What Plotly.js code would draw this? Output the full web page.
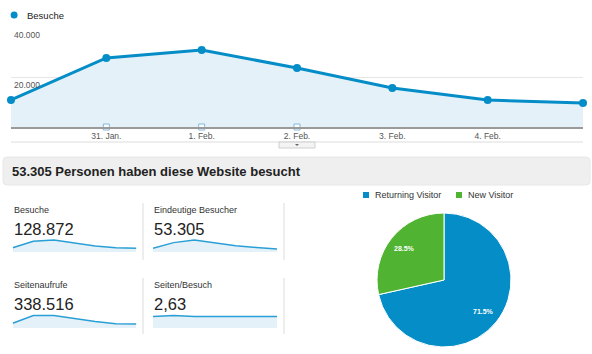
<!DOCTYPE html>
<html><head><meta charset="utf-8">
<script src="https://cdn.plot.ly/plotly-3.0.1.min.js"></script>
<style>html,body{margin:0;padding:0;background:#fff;}#chart{width:592px;height:354px;}</style>
</head><body><div id="chart"></div>
<script>
// ---- data ----
const days = ['30. Jan.','31. Jan.','1. Feb.','2. Feb.','3. Feb.','4. Feb.','5. Feb.'];
const visits = [10800, 27600, 30800, 23600, 15600, 10800, 9600];
const uniqueVisitors = [6200, 15600, 20100, 14800, 10300, 7400, 5000];
const pageviews = [29800, 78000, 78000, 60200, 39900, 27300, 25400];
const pagesPerVisit = [2.6, 2.8, 2.55, 2.55, 2.55, 2.55, 2.55];
const noteDays = ['31. Jan.','1. Feb.','2. Feb.'];
const xTickLabels = ['31. Jan.','1. Feb.','2. Feb.','3. Feb.','4. Feb.'];
const yTickVals = [20000, 40000];
const yTickLabels = ['20.000','40.000'];
const seriesName = 'Besuche';
const visitorTypes = ['Returning Visitor','New Visitor'];
const visitorShares = [71.5, 28.5];
const metricNames = ['Besuche','Eindeutige Besucher','Seitenaufrufe','Seiten/Besuch'];
const metricTotals = ['128.872','53.305','338.516','2,63'];
const headline = '53.305 Personen haben diese Website besucht';

// ---- styling ----
const W = 592, H = 354;
const px = x => x / W;
const py = y => 1 - y / H;
const FONT = 'Liberation Sans, Arial, Helvetica, sans-serif';
const BLUE = '#058DC7', GREEN = '#50B432', FILL = '#E4F1F8';
const pieColors = [BLUE, GREEN];

const traces = [];
traces.push({x: days, y: visits, type: 'scatter', mode: 'lines', fill: 'tozeroy', fillcolor: FILL,
  line: {color: BLUE, width: 3}, xaxis: 'x', yaxis: 'y', hoverinfo: 'skip', showlegend: false, cliponaxis: false});
traces.push({x: days, y: visits, type: 'scatter', mode: 'markers', marker: {color: BLUE, size: 8},
  xaxis: 'x', yaxis: 'y', hoverinfo: 'skip', showlegend: false, cliponaxis: false});
traces.push({x: noteDays, y: noteDays.map(() => 0), type: 'scatter', mode: 'markers',
  marker: {symbol: 'square', size: 6, color: '#fff', line: {color: '#86b7d6', width: 1}},
  xaxis: 'x', yaxis: 'y', hoverinfo: 'skip', showlegend: false, cliponaxis: false});

const sparkSeries = [visits, uniqueVisitors, pageviews, pagesPerVisit];
const cols = [[12.7, 136.4], [153, 277]];
const rows = [[237.5, 252], [313, 328]];
const layout = {
  width: W, height: H, margin: {l: 0, r: 0, t: 0, b: 0},
  paper_bgcolor: '#fff', plot_bgcolor: 'rgba(0,0,0,0)', showlegend: false,
  font: {family: FONT, color: '#333'},
  xaxis: {domain: [px(11), px(583)], type: 'category', range: [0, 6], tickvals: xTickLabels, ticktext: xTickLabels,
    showgrid: false, zeroline: false, showline: true, linecolor: '#9a9a9a', linewidth: 2, ticks: '',
    tickfont: {size: 8.5, color: '#555', family: FONT}, fixedrange: true},
  yaxis: {domain: [py(127), py(27)], range: [0, 40000], tickvals: yTickVals, ticktext: yTickLabels,
    showgrid: true, gridcolor: '#e6e6e6', zeroline: false, showline: false, ticks: '',
    ticklabelposition: 'inside bottom', ticklabelshift: 2, tickfont: {size: 8.5, color: '#555', family: FONT}, fixedrange: true},
  shapes: [], annotations: []
};

sparkSeries.forEach((s, i) => {
  const n = i + 2;
  const c = cols[i % 2], r = rows[Math.floor(i / 2)];
  traces.push({x: days, y: s, type: 'scatter', mode: 'lines', fill: 'tozeroy', fillcolor: FILL,
    line: {color: '#2a9fd6', width: 1.5}, xaxis: 'x' + n, yaxis: 'y' + n, hoverinfo: 'skip', showlegend: false});
  layout['xaxis' + n] = {domain: [px(c[0]), px(c[1])], visible: false, type: 'category', range: [0, 6], fixedrange: true};
  layout['yaxis' + n] = {domain: [py(r[1]), py(r[0])], visible: false, range: [0, Math.max(...s) * 1.2], fixedrange: true};
  const lx = c[0] - 0.7;
  layout.annotations.push({xref: 'paper', yref: 'paper', x: px(lx), y: py(i < 2 ? 210 : 285), xanchor: 'left', yanchor: 'middle',
    text: metricNames[i], showarrow: false, font: {size: 9, color: '#333', family: FONT}});
  layout.annotations.push({xref: 'paper', yref: 'paper', x: px(lx - 0.5), y: py(i < 2 ? 228.5 : 303.5), xanchor: 'left', yanchor: 'middle',
    text: metricTotals[i], showarrow: false, font: {size: 16.5, color: '#222', family: FONT}});
});

// pie
const pieCx = 444, pieCy = 280, pieR = 67;
traces.push({type: 'pie', labels: visitorTypes, values: visitorShares, sort: false, direction: 'clockwise', rotation: 0,
  marker: {colors: pieColors, line: {color: '#fff', width: 1}},
  domain: {x: [px(pieCx - pieR), px(pieCx + pieR)], y: [py(pieCy + pieR), py(pieCy - pieR)]},
  textinfo: 'none', hoverinfo: 'skip', showlegend: false});
// slice labels, placed along each slice's mid-angle (computed from the shares)
(function(){
  const total = visitorShares.reduce((a, b) => a + b, 0);
  let cum = 0;
  visitorShares.forEach(v => {
    const mid = (cum + v / 2) / total * 2 * Math.PI;
    cum += v;
    const lx = pieCx + Math.sin(mid) * pieR * 0.76;
    const ly = pieCy - Math.cos(mid) * pieR * 0.76;
    layout.annotations.push({xref: 'paper', yref: 'paper', x: px(lx), y: py(ly), xanchor: 'center', yanchor: 'middle',
      text: '<b>' + (v / total * 100).toFixed(1) + '%</b>', showarrow: false, font: {size: 7, color: '#fff', family: FONT}});
  });
})();

// separators
[143, 284].forEach(x => {
  [[203, 260], [278, 334]].forEach(yy => {
    layout.shapes.push({type: 'line', xref: 'paper', yref: 'paper', x0: px(x), x1: px(x), y0: py(yy[0]), y1: py(yy[1]),
      line: {color: '#dcdcdc', width: 1}});
  });
});
// headline box (rounded)
(function(){
  const x0 = 3, x1 = 590, y0 = 157, y1 = 185, r = 4;
  const X = v => px(v), Y = v => py(v);
  const path = `M ${X(x0 + r)} ${Y(y0)} L ${X(x1 - r)} ${Y(y0)} Q ${X(x1)} ${Y(y0)} ${X(x1)} ${Y(y0 + r)} L ${X(x1)} ${Y(y1 - r)} Q ${X(x1)} ${Y(y1)} ${X(x1 - r)} ${Y(y1)} L ${X(x0 + r)} ${Y(y1)} Q ${X(x0)} ${Y(y1)} ${X(x0)} ${Y(y1 - r)} L ${X(x0)} ${Y(y0 + r)} Q ${X(x0)} ${Y(y0)} ${X(x0 + r)} ${Y(y0)} Z`;
  layout.shapes.push({type: 'path', xref: 'paper', yref: 'paper', path: path, fillcolor: '#efefef', line: {color: '#e8e8e8', width: 1}, layer: 'below'});
})();
// bottom line of main chart + tab
layout.shapes.push({type: 'line', xref: 'paper', yref: 'paper', x0: px(11), x1: px(583), y0: py(142), y1: py(142), line: {color: '#dddddd', width: 1}});
layout.shapes.push({type: 'rect', xref: 'paper', yref: 'paper', x0: px(279), x1: px(315), y0: py(148), y1: py(142), fillcolor: '#f3f3f3', line: {color: '#cfcfcf', width: 1}});
layout.shapes.push({type: 'path', xref: 'paper', yref: 'paper', path: `M ${px(295)} ${py(144)} L ${px(299)} ${py(144)} L ${px(297)} ${py(146)} Z`, fillcolor: '#666', line: {width: 0}});
// series legend
layout.shapes.push({type: 'circle', xref: 'paper', yref: 'paper', x0: px(10.6), x1: px(17.6), y0: py(18.5), y1: py(11.5), fillcolor: BLUE, line: {width: 0}});
layout.annotations.push({xref: 'paper', yref: 'paper', x: px(25), y: py(15), xanchor: 'left', yanchor: 'middle', text: seriesName, showarrow: false,
  font: {size: 9.5, color: '#222', family: FONT}});
// pie legend
const legX = [[363, 373], [456, 466]];
visitorTypes.forEach((t, i) => {
  layout.shapes.push({type: 'rect', xref: 'paper', yref: 'paper', x0: px(legX[i][0]), x1: px(legX[i][0] + 6), y0: py(198), y1: py(192), fillcolor: pieColors[i], line: {width: 0}});
  layout.annotations.push({xref: 'paper', yref: 'paper', x: px(legX[i][1]), y: py(195), xanchor: 'left', yanchor: 'middle', text: t, showarrow: false,
    font: {size: 9, color: '#333', family: FONT}});
});
// headline
layout.annotations.push({xref: 'paper', yref: 'paper', x: px(9.5), y: py(171), xanchor: 'left', yanchor: 'middle', text: '<b>' + headline + '</b>', showarrow: false,
  font: {size: 13, color: '#222', family: FONT}});

Plotly.newPlot('chart', traces, layout, {displayModeBar: false, staticPlot: true});
</script></body></html>
